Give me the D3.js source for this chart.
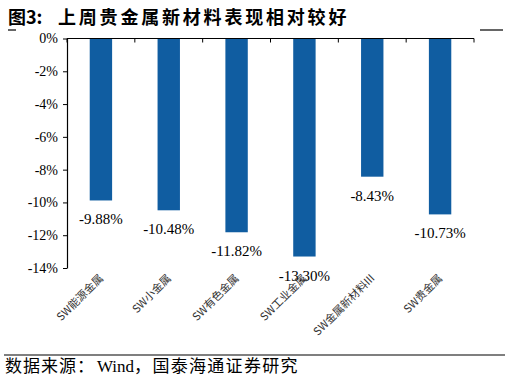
<!DOCTYPE html>
<html>
<head>
<meta charset="utf-8">
<script src="https://cdn.jsdelivr.net/npm/d3@7"></script>
<style>
  body { margin: 0; background: #fff; }
  svg { display: block; }
</style>
</head>
<body>
<script>
var width = 509, height = 380;

var categories = ["SW能源金属", "SW小金属", "SW有色金属", "SW工业金属", "SW金属新材料III", "SW贵金属"];
var values = [-9.88, -10.48, -11.82, -13.30, -8.43, -10.73];
var yTicks = [0, -2, -4, -6, -8, -10, -12, -14];

var color_bar = "#105DA1";
var serif = "'Liberation Serif', 'Times New Roman', serif";
var cjk = "'Noto Sans CJK SC', sans-serif";

var svg = d3.select("body").append("svg")
  .attr("width", width)
  .attr("height", height);

// title
svg.append("text")
  .attr("x", 8).attr("y", 24)
  .attr("font-family", cjk).attr("font-weight", "bold")
  .attr("font-size", 18).attr("fill", "#000")
  .text("图3:");
svg.append("text")
  .attr("x", 58).attr("y", 24)
  .attr("font-family", cjk).attr("font-weight", "bold")
  .attr("font-size", 18).attr("letter-spacing", 2.8).attr("fill", "#000")
  .text("上周贵金属新材料表现相对较好");
svg.append("line").attr("x1", 8).attr("x2", 16).attr("y1", 30).attr("y2", 30)
  .attr("stroke", "#000").attr("stroke-width", 1.2);
svg.append("line").attr("x1", 480).attr("x2", 503).attr("y1", 30).attr("y2", 30)
  .attr("stroke", "#000").attr("stroke-width", 1.2);

var x0 = 67, x1 = 474, ytop = 38.5, ybot = 268;

var x = d3.scaleBand().domain(categories).range([x0, x1]).paddingInner(0.67).paddingOuter(0.335);
var y = d3.scaleLinear().domain([0, -14]).range([ytop, ybot]);

// bars
svg.selectAll("rect.bar").data(values).enter().append("rect")
  .attr("class", "bar")
  .attr("x", function(d, i) { return x(categories[i]); })
  .attr("y", y(0))
  .attr("width", x.bandwidth())
  .attr("height", function(d) { return y(d) - y(0); })
  .attr("fill", color_bar);

// value labels
svg.selectAll("text.val").data(values).enter().append("text")
  .attr("class", "val")
  .attr("x", function(d, i) { return x(categories[i]) + x.bandwidth() / 2; })
  .attr("y", function(d) { return y(d) + 24; })
  .attr("text-anchor", "middle")
  .attr("font-family", serif).attr("font-size", 15)
  .text(function(d) { return d.toFixed(2) + "%"; });

// y axis
var yAxis = d3.axisLeft(y).tickValues(yTicks).tickSize(4).tickSizeOuter(0)
  .tickFormat(function(d) { return d + "%"; });
var gy = svg.append("g").attr("transform", "translate(" + x0 + ",0)").call(yAxis);
gy.select(".domain").attr("stroke", "#000").attr("stroke-width", 1.2);
gy.selectAll(".tick line").attr("stroke", "#000");
gy.selectAll(".tick text").attr("font-family", serif).attr("font-size", 14)
  .attr("fill", "#000").attr("x", -9);

// x axis at zero line, ticks on band edges
var gx = svg.append("g");
gx.append("line").attr("x1", x0).attr("x2", x1).attr("y1", y(0)).attr("y2", y(0))
  .attr("stroke", "#000").attr("stroke-width", 1.2);
var edges = categories.map(function(c) { return x(c) - x.step() * x.paddingInner() / 2; });
edges.push(x1);
gx.selectAll("line.tk").data(edges).enter().append("line")
  .attr("class", "tk")
  .attr("x1", function(d) { return d; }).attr("x2", function(d) { return d; })
  .attr("y1", y(0)).attr("y2", y(0) + 4)
  .attr("stroke", "#000");

// category labels
svg.selectAll("text.cat").data(categories).enter().append("text")
  .attr("class", "cat")
  .attr("transform", function(d) {
    return "translate(" + (x(d) + x.bandwidth() / 2 + 3) + "," + 279 + ") rotate(-45)";
  })
  .attr("text-anchor", "end")
  .attr("font-family", cjk).attr("font-size", 11).attr("fill", "#333")
  .text(function(d) { return d; });

// bottom rule and source
svg.append("line").attr("x1", 4).attr("x2", 505).attr("y1", 355).attr("y2", 355)
  .attr("stroke", "#000").attr("stroke-width", 1.2);
var src = svg.append("text")
  .attr("x", 5).attr("y", 372)
  .attr("font-family", cjk).attr("font-size", 17).attr("fill", "#000");
src.append("tspan").attr("letter-spacing", 1).text("数据来源：");
src.append("tspan").attr("font-family", serif).attr("dx", 2).text("Wind");
src.append("tspan").attr("letter-spacing", 1.3).text("，国泰海通证券研究");
</script>
</body>
</html>
